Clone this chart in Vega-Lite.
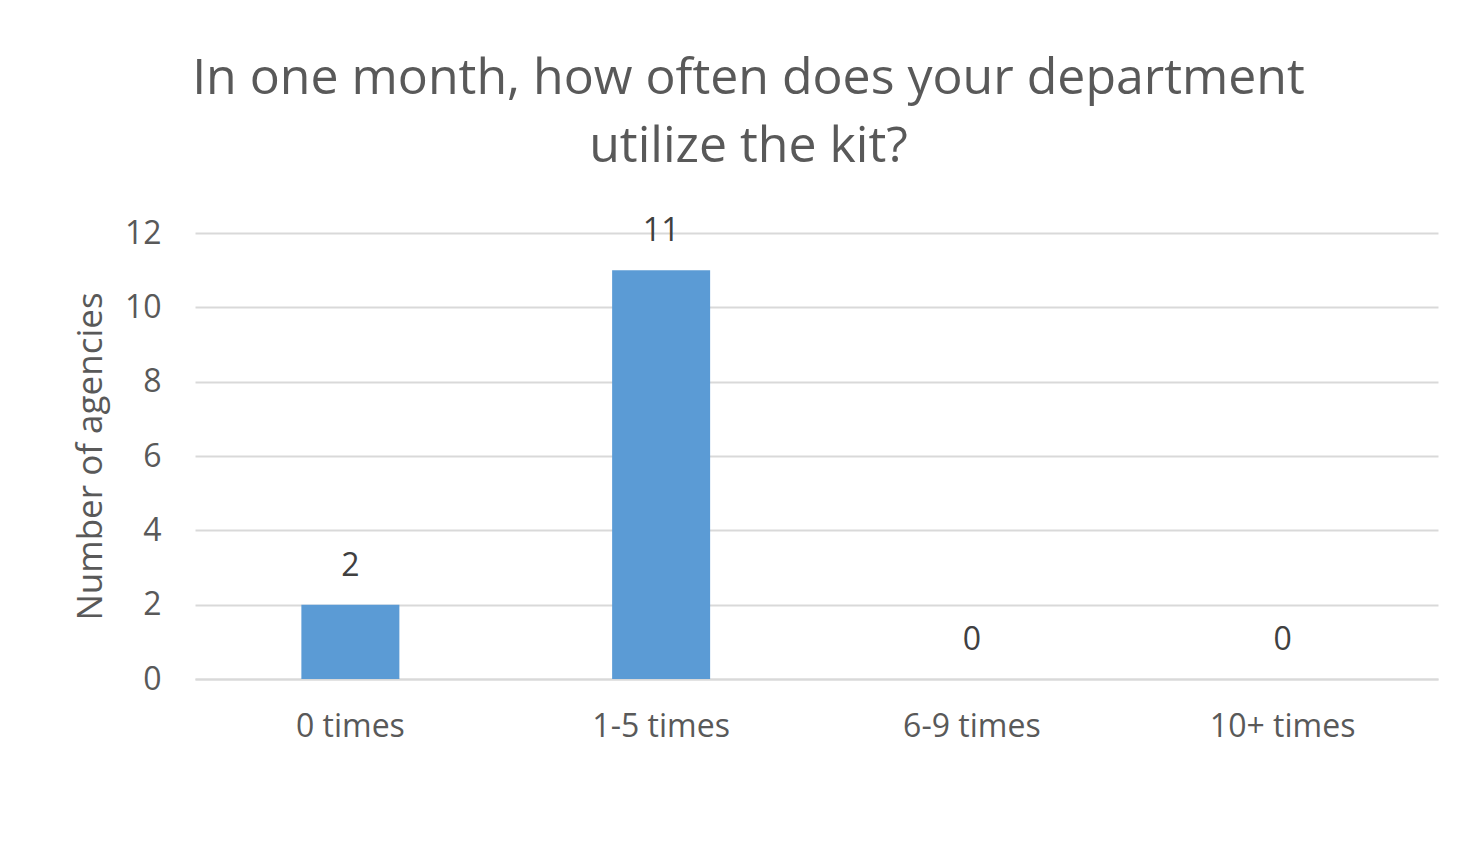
{
  "$schema": "https://vega.github.io/schema/vega-lite/v6.json",
  "autosize": {"type": "none"},
  "width": 1243,
  "height": 446,
  "padding": {"left": 195, "top": 233, "right": 38, "bottom": 177},
  "background": "white",
  "title": {
    "text": ["In one month, how often does your department", "utilize the kit?"],
    "font": "Open Sans",
    "fontSize": 50,
    "fontWeight": "normal",
    "color": "#595959",
    "lineHeight": 68,
    "anchor": "middle",
    "dx": -68,
    "offset": 43
  },
  "data": {
    "values": [
      {"category": "0 times", "agencies": 2},
      {"category": "1-5 times", "agencies": 11},
      {"category": "6-9 times", "agencies": 0},
      {"category": "10+ times", "agencies": 0}
    ]
  },
  "encoding": {
    "x": {
      "field": "category",
      "type": "nominal",
      "sort": null,
      "scale": {"paddingInner": 0, "paddingOuter": 0},
      "axis": {
        "title": null,
        "labelAngle": 0,
        "labelFont": "Open Sans",
        "labelFontSize": 32,
        "labelColor": "#595959",
        "labelPadding": 32,
        "ticks": false,
        "domainColor": "#d9d9d9",
        "domainWidth": 2,
        "grid": false
      }
    },
    "y": {
      "field": "agencies",
      "type": "quantitative",
      "scale": {"domain": [0, 12]},
      "axis": {
        "title": "Number of agencies",
        "titleFont": "Open Sans",
        "titleFontSize": 35,
        "titleFontWeight": "normal",
        "titleColor": "#595959",
        "titlePadding": 16,
        "values": [0, 2, 4, 6, 8, 10, 12],
        "labelFont": "Open Sans",
        "labelFontSize": 32,
        "labelColor": "#595959",
        "labelPadding": 34,
        "ticks": false,
        "domain": false,
        "gridColor": "#d9d9d9",
        "gridWidth": 2
      }
    }
  },
  "layer": [
    {"mark": {"type": "bar", "size": 98, "color": "#5b9bd5"}},
    {
      "mark": {"type": "text", "baseline": "bottom", "dy": -22, "font": "Open Sans", "fontSize": 32, "color": "#404040"},
      "encoding": {"text": {"field": "agencies", "type": "quantitative"}}
    }
  ],
  "config": {"view": {"stroke": null}}
}
